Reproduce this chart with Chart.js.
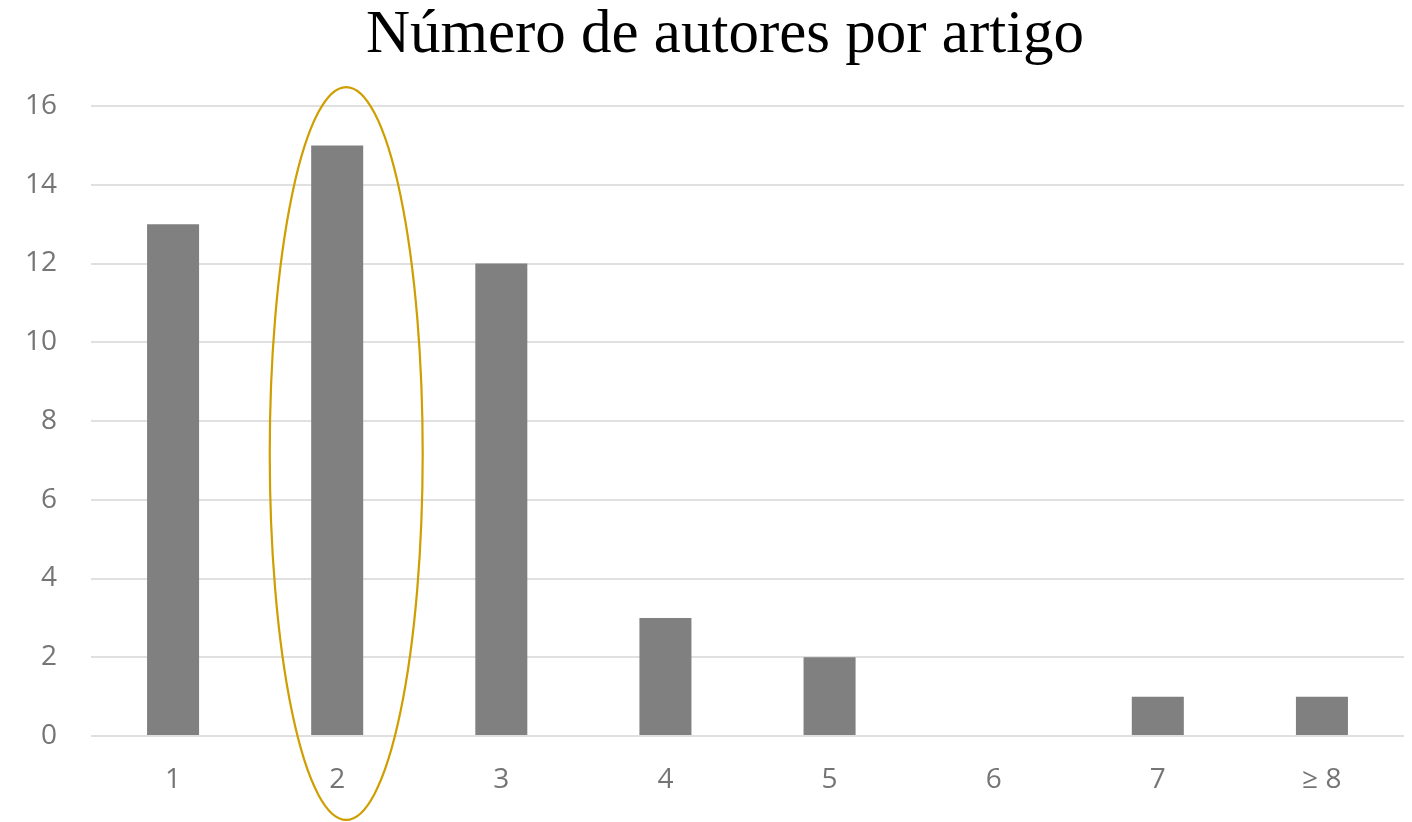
<!DOCTYPE html>
<html lang="pt">
<head>
<meta charset="utf-8">
<title>Número de autores por artigo</title>
<script src="https://cdn.jsdelivr.net/npm/chart.js@4.4.1/dist/chart.umd.min.js"></script>
<style>
  html, body { margin: 0; padding: 0; background: #ffffff; }
  #wrap { position: relative; width: 1412px; height: 822px; }
</style>
</head>
<body>
<div id="wrap"><canvas id="chart"></canvas></div>
<script>
// Número de autores (categorias) e quantidade de artigos em cada uma
const categories = ['1', '2', '3', '4', '5', '6', '7', '≥ 8'];
const articleCounts = [13, 15, 12, 3, 2, 0, 1, 1];
const yTicks = [0, 2, 4, 6, 8, 10, 12, 14, 16];
const chartTitle = 'Número de autores por artigo';

// Elipse de destaque em torno da categoria "2" (em unidades das escalas)
const highlightCategory = 1;
const highlightOffset = 0.055;   // deslocamento do centro, em larguras de categoria
const highlightHalfWidth = 0.466; // semi-eixo horizontal, em larguras de categoria
const highlightTop = 16.48;
const highlightBottom = -2.13;

const highlightEllipse = {
  id: 'highlightEllipse',
  afterDraw(chart) {
    const x = chart.scales.x, y = chart.scales.y;
    const step = x.getPixelForValue(1) - x.getPixelForValue(0);
    const cx = x.getPixelForValue(highlightCategory) + highlightOffset * step;
    const top = y.getPixelForValue(highlightTop);
    const bottom = y.getPixelForValue(highlightBottom);
    const ctx = chart.ctx;
    ctx.save();
    ctx.beginPath();
    ctx.ellipse(cx, (top + bottom) / 2, highlightHalfWidth * step, (bottom - top) / 2, 0, 0, Math.PI * 2);
    ctx.strokeStyle = '#CF9E00';
    ctx.lineWidth = 2.2;
    ctx.stroke();
    ctx.restore();
  }
};

// Título desenhado no topo, um pouco à direita do centro da tela
const titleText = {
  id: 'titleText',
  afterDraw(chart) {
    const ctx = chart.ctx;
    ctx.save();
    ctx.font = 'normal 61px "Liberation Serif", "Times New Roman", serif';
    ctx.fillStyle = '#000000';
    ctx.textAlign = 'center';
    ctx.textBaseline = 'alphabetic';
    ctx.fillText(chartTitle, chart.width / 2 + 19, 52);
    ctx.restore();
  }
};

const whiteBackground = {
  id: 'whiteBackground',
  beforeDraw(chart) {
    const ctx = chart.ctx;
    ctx.save();
    ctx.fillStyle = '#ffffff';
    ctx.fillRect(0, 0, chart.width, chart.height);
    ctx.restore();
  }
};

const tickFont = { family: '"Open Sans", sans-serif', size: 28 };

new Chart(document.getElementById('chart'), {
  type: 'bar',
  data: {
    labels: categories,
    datasets: [{
      data: articleCounts,
      backgroundColor: '#808080',
      borderWidth: 0,
      barPercentage: 0.317,
      categoryPercentage: 1
    }]
  },
  options: {
    responsive: true,
    maintainAspectRatio: false,
    animation: false,
    layout: { padding: { top: 106, right: 8, bottom: 0, left: 0 } },
    plugins: {
      legend: { display: false },
      tooltip: { enabled: false },
      title: { display: false }
    },
    scales: {
      x: {
        grid: { display: false, drawTicks: false },
        border: { display: false },
        ticks: { color: '#757575', font: tickFont, padding: 27, maxRotation: 0 },
        afterFit(scale) { scale.height = 86; }
      },
      y: {
        min: 0,
        max: 16,
        afterBuildTicks(scale) { scale.ticks = yTicks.map(v => ({ value: v })); },
        grid: { color: '#e0e0e0', lineWidth: 2, drawTicks: false },
        border: { display: false },
        ticks: { color: '#757575', font: tickFont, padding: 34 },
        afterFit(scale) { scale.width = 91; }
      }
    }
  },
  plugins: [whiteBackground, titleText, highlightEllipse]
});
</script>
</body>
</html>
